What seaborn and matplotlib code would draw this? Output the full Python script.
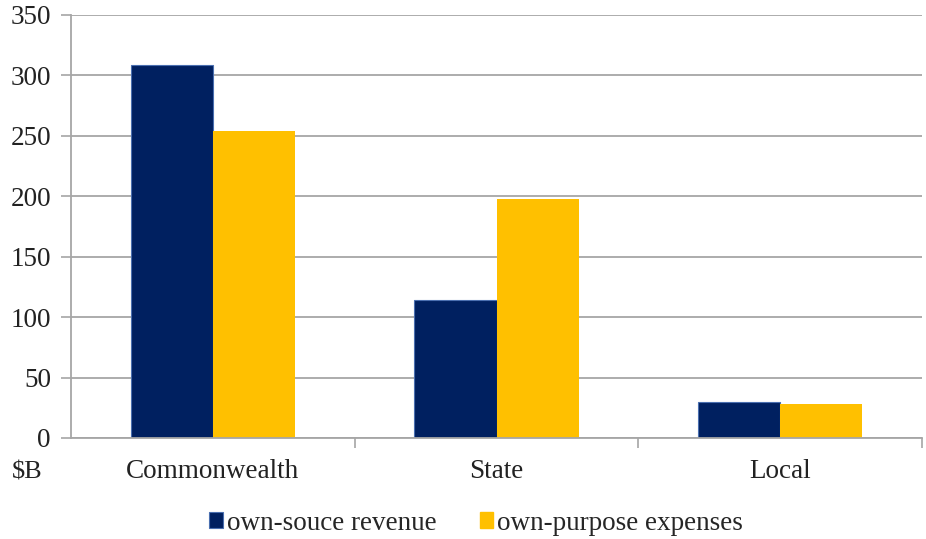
import matplotlib
matplotlib.use("Agg")
import matplotlib.pyplot as plt
import seaborn as sns
import pandas as pd
from matplotlib.patches import Patch

categories = ["Commonwealth", "State", "Local"]
revenue = [309, 114, 30]
expenses = [254, 198, 28]
series_names = ["own-souce revenue", "own-purpose expenses"]
colors = ["#002060", "#FFC000"]
yticks = [0, 50, 100, 150, 200, 250, 300, 350]

df = pd.DataFrame({
    "category": categories * 2,
    "value": revenue + expenses,
    "series": [series_names[0]] * 3 + [series_names[1]] * 3,
})

sns.set_theme(style="white")
plt.rcParams["font.family"] = ["Liberation Serif", "DejaVu Serif"]

fig = plt.figure(figsize=(9.26, 5.39), dpi=100)
ax = fig.add_axes([0.0767, 0.1874, 0.919, 0.7848])

sns.barplot(data=df, x="category", y="value", hue="series", palette=colors,
            width=0.58, ax=ax, legend=False, saturation=1)

for i, p in enumerate(ax.patches):
    if abs(p.get_facecolor()[2] - 0x60 / 255) < 0.02:
        p.set_edgecolor("#4A6FB0")
        p.set_linewidth(0.8)
    else:
        p.set_linewidth(0)

ax.set_ylim(0, 350)
ax.set_xlim(-0.5, 2.5)
ax.set_yticks(yticks)
ax.set_yticklabels([str(v) for v in yticks], fontsize=19.5, color="#222222")
ax.yaxis.grid(True, color="#A6A6A6", linewidth=1.3)
ax.set_axisbelow(True)
ax.tick_params(axis="y", which="major", length=7, width=1.2, color="#A6A6A6",
               left=True, pad=7.5)
ax.set_xticks(range(len(categories)))
ax.set_xticklabels(categories, fontsize=19.5, color="#222222")
ax.set_xticks([0.5, 1.5, 2.5], minor=True)
ax.tick_params(axis="x", which="major", length=0, pad=15)
ax.tick_params(axis="x", which="minor", length=7, width=1.2, color="#A6A6A6",
               bottom=True)
ax.set_xlabel("")
ax.set_ylabel("")

for s in ["top", "right"]:
    ax.spines[s].set_visible(False)
for s in ["left", "bottom"]:
    ax.spines[s].set_color("#A6A6A6")
    ax.spines[s].set_linewidth(1.3)

fig.text(12 / 926, 1 - 472 / 539, "$B", fontsize=19, color="#222222",
         va="center", ha="left")

handles = [Patch(facecolor=colors[0], edgecolor="#4A6FB0", linewidth=0.8),
           Patch(facecolor=colors[1], edgecolor=colors[1])]
fig.legend(handles, series_names, loc="center", bbox_to_anchor=(476 / 926, 1 - 523 / 539),
           ncol=2, frameon=False, fontsize=19.5, handlelength=0.5, handleheight=0.5,
           handletextpad=0.15, columnspacing=1.6)

fig.savefig("out.png", dpi=100)
